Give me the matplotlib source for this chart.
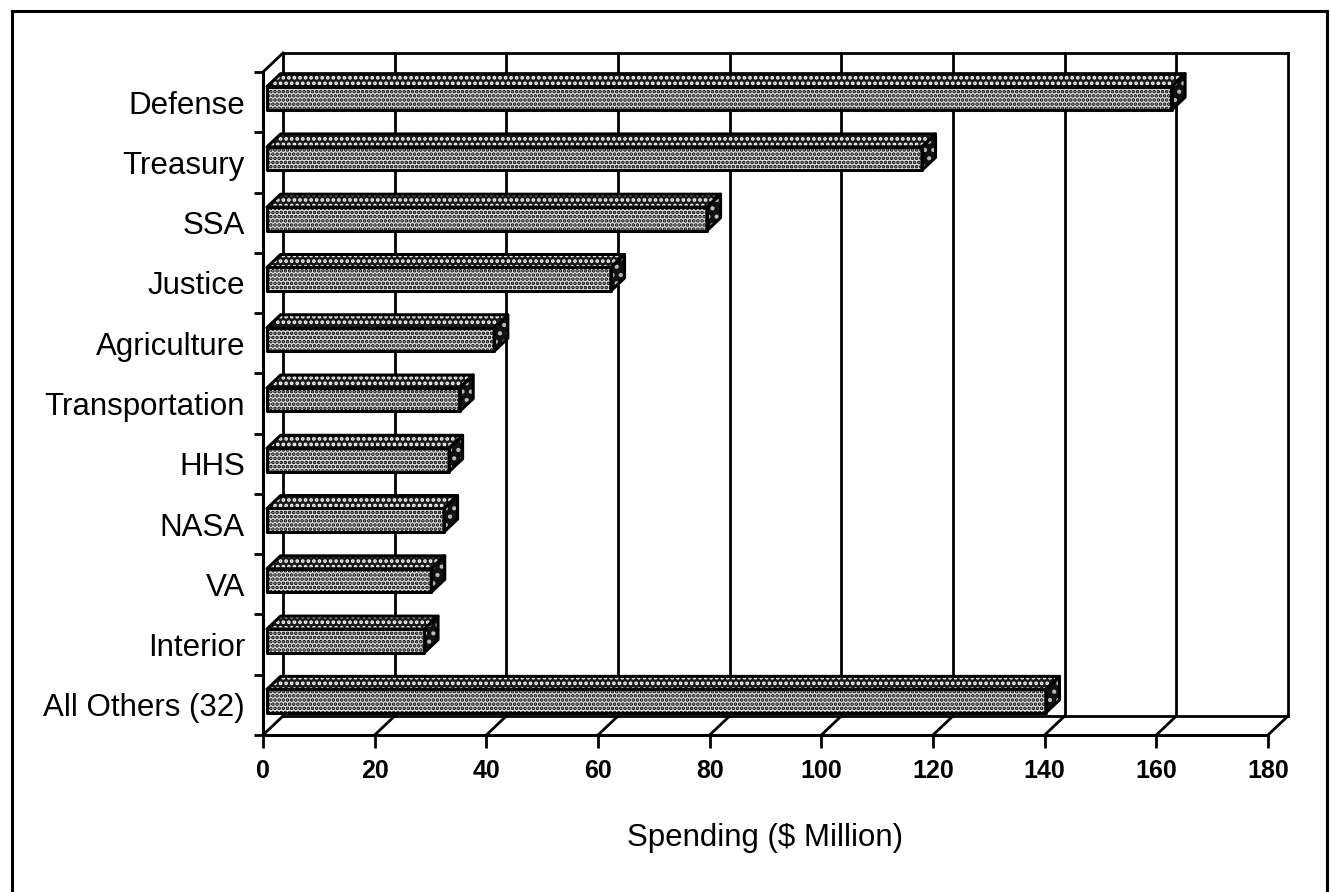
import matplotlib
matplotlib.use("Agg")
import matplotlib.pyplot as plt
from matplotlib.patches import Polygon, Rectangle
import numpy as np

plt.rcParams['font.family'] = ['Liberation Sans', 'DejaVu Sans']
plt.rcParams['hatch.linewidth'] = 1.8

categories = ["Defense", "Treasury", "SSA", "Justice", "Agriculture", "Transportation",
              "HHS", "NASA", "VA", "Interior", "All Others (32)"]
values = [162, 117.3, 78.8, 61.6, 40.7, 34.5, 32.6, 31.7, 29.4, 28.2, 139.5]
xticks = [0, 20, 40, 60, 80, 100, 120, 140, 160, 180]
xlabel = "Spending ($ Million)"

W, H = 1330, 892
fig = plt.figure(figsize=(W / 100, H / 100), dpi=100)
fig.patch.set_facecolor('white')

# front plane of the 3-D box
ax = fig.add_axes([263 / W, (H - 735) / H, (1268 - 263) / W, (735 - 72) / H])
ax.set_xlim(0, 180)
ax.set_ylim(len(categories) - 0.5, -0.5)
ax.set_facecolor('none')
for s in ['top', 'right']:
    ax.spines[s].set_visible(False)
for s in ['left', 'bottom']:
    ax.spines[s].set_linewidth(2.2)
    ax.spines[s].set_zorder(6)

# depth vector (20 px right, 19 px up) in data units
p0 = ax.transData.transform((0, 0))
DX, DY = ax.transData.inverted().transform(p0 + np.array([20.0, 19.0]))

ymin, ymax = -0.5, len(categories) - 0.5
lw = 2.0
# back wall grid lines
for x in xticks:
    ax.plot([x + DX, x + DX], [ymin + DY, ymax + DY], color='black', lw=lw,
            clip_on=False, zorder=1, solid_capstyle='projecting')
# back wall top and bottom edges
ax.plot([0 + DX, 180 + DX], [ymin + DY, ymin + DY], color='black', lw=lw, clip_on=False, zorder=1)
ax.plot([0 + DX, 180 + DX], [ymax + DY, ymax + DY], color='black', lw=lw, clip_on=False, zorder=1)
# floor diagonals
for x in xticks:
    ax.plot([x, x + DX], [ymax, ymax + DY], color='black', lw=lw, clip_on=False, zorder=1)
# left wall top diagonal
ax.plot([0, DX], [ymin, ymin + DY], color='black', lw=lw, clip_on=False, zorder=1)

# bars
f0, f1 = 0.2, 0.88
h = 0.39
for i, v in enumerate(values):
    ax0, ay0 = f0 * DX, f0 * DY
    bx0, by0 = f1 * DX, f1 * DY
    yt = i - h / 2 + ay0
    yb = i + h / 2 + ay0
    xl = ax0
    xr = v + ax0
    ddx, ddy = bx0 - ax0, by0 - ay0
    front = [(xl, yt), (xr, yt), (xr, yb), (xl, yb)]
    top = [(xl, yt), (xr, yt), (xr + ddx, yt + ddy), (xl + ddx, yt + ddy)]
    side = [(xr, yt), (xr, yb), (xr + ddx, yb + ddy), (xr + ddx, yt + ddy)]
    z = 3
    # front: light with black dots
    ax.add_patch(Polygon(front, closed=True, facecolor='#e0e0e0', edgecolor='black',
                         hatch='....', lw=0, clip_on=False, zorder=z))
    # top: dark with white dots
    ax.add_patch(Polygon(top, closed=True, facecolor='#1a1a1a', edgecolor='white',
                         hatch='...', lw=0, clip_on=False, zorder=z))
    # side: darkest
    ax.add_patch(Polygon(side, closed=True, facecolor='#111111', edgecolor='#bbbbbb',
                         hatch='..', lw=0, clip_on=False, zorder=z))
    for poly in (front, top, side):
        ax.add_patch(Polygon(poly, closed=True, fill=False, edgecolor='black',
                             lw=2.2, joinstyle='round', clip_on=False, zorder=z + 0.5))

# ticks and labels
ax.set_xticks(xticks)
ax.set_xticklabels([str(t) for t in xticks], fontsize=18, fontweight='bold')
ax.tick_params(axis='x', direction='out', length=9.5, width=2, pad=8)
ax.set_yticks(range(len(categories)))
ax.set_yticklabels(categories, fontsize=22.5)
ax.tick_params(axis='y', which='major', length=0, pad=13)
ax.set_yticks(np.arange(-0.5, len(categories), 1.0), minor=True)
ax.tick_params(axis='y', which='minor', direction='out', length=6.5, width=2)

fig.text(765 / W, 1 - 838 / H, xlabel, ha='center', va='center', fontsize=22.5)

# outer frame
fig.add_artist(Rectangle((12 / W, -0.05), (1327 - 12) / W, 1.05 - 11 / H,
                         transform=fig.transFigure, fill=False, edgecolor='black', lw=2.2))

fig.savefig("out.png", dpi=100)
